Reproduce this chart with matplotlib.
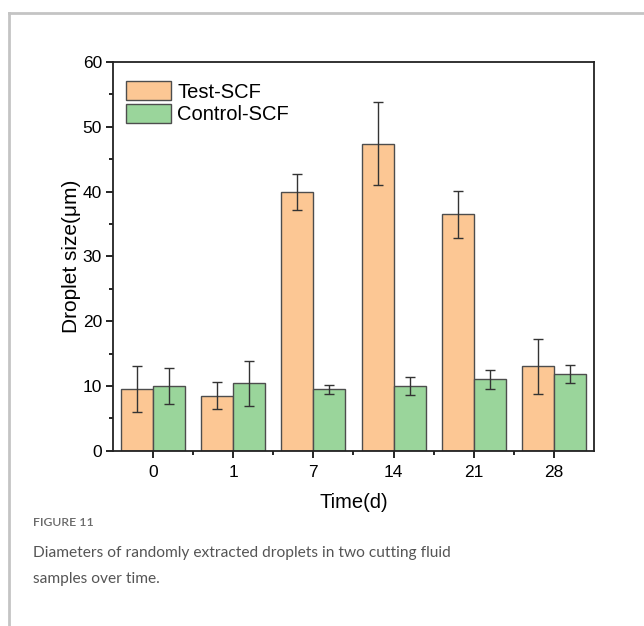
import matplotlib
matplotlib.use('Agg')
import matplotlib.pyplot as plt
from matplotlib.lines import Line2D
import numpy as np

DAYS = ['0', '1', '7', '14', '21', '28']
TEST_MEAN = [9.5, 8.5, 39.9, 47.4, 36.5, 13.0]
TEST_ERR = [3.5, 2.1, 2.8, 6.4, 3.6, 4.3]
CTRL_MEAN = [10.0, 10.4, 9.5, 10.0, 11.0, 11.9]
CTRL_ERR = [2.8, 3.5, 0.7, 1.4, 1.4, 1.4]

plt.rcParams['font.family'] = ['Liberation Sans', 'DejaVu Sans']

fig = plt.figure(figsize=(6.44, 6.26), dpi=100)

# page frame (grey lines top and left)
fig.add_artist(Line2D([9 / 644, 1], [1 - 13 / 626] * 2, color='#c4c4c4', lw=2,
                      transform=fig.transFigure))
fig.add_artist(Line2D([9 / 644] * 2, [0, 1 - 13 / 626], color='#c4c4c4', lw=2,
                      transform=fig.transFigure))

ax = fig.add_axes([113 / 644, 1 - 450.7 / 626, 481 / 644, 388.7 / 626])
x = np.arange(len(DAYS))
w = 0.4
ekw = dict(ecolor='#333333', elinewidth=1, capsize=3.5, capthick=1)
ax.bar(x - w / 2, TEST_MEAN, w, yerr=TEST_ERR, color='#fcc794',
       edgecolor='#4d4d4d', linewidth=1, label='Test-SCF', error_kw=ekw)
ax.bar(x + w / 2, CTRL_MEAN, w, yerr=CTRL_ERR, color='#9ad59b',
       edgecolor='#4d4d4d', linewidth=1, label='Control-SCF', error_kw=ekw)

ax.set_xlim(-0.5, 5.5)
ax.set_ylim(0, 60)
ax.set_xticks(x)
ax.set_xticklabels(DAYS)
ax.set_xticks(x[:-1] + 0.5, minor=True)
ax.set_yticks(np.arange(0, 61, 10))
ax.set_yticks(np.arange(5, 60, 10), minor=True)
ax.tick_params(which='major', direction='out', length=5, width=1.2,
               labelsize=12.5, pad=3)
ax.tick_params(axis='x', which='major', pad=5)
ax.tick_params(which='minor', direction='out', length=3, width=1.2)
for s in ax.spines.values():
    s.set_linewidth(1.3)
    s.set_color('#222222')

ax.set_xlabel('Time(d)', fontsize=14.5, labelpad=10)
ax.set_ylabel('Droplet size(μm)', fontsize=15, labelpad=1)

ax.legend(loc='upper left', bbox_to_anchor=(0.027, 0.951), borderpad=0,
          frameon=False, fontsize=14.5, handlelength=2.25, handleheight=1.1,
          labelspacing=0.12, handletextpad=0.3, borderaxespad=0)

fig.text(33 / 644, 1 - 523 / 626, 'FIGURE 11', fontsize=8.8, color='#6a6a6a',
         family=['Lato', 'DejaVu Sans'], fontweight='semibold', va='center')
fig.text(33 / 644, 1 - 553 / 626,
         'Diameters of randomly extracted droplets in two cutting fluid',
         fontsize=11.2, color='#555555', family=['Lato', 'DejaVu Sans'],
         va='center')
fig.text(33 / 644, 1 - 579 / 626, 'samples over time.', fontsize=11.2,
         color='#555555', family=['Lato', 'DejaVu Sans'], va='center')

fig.savefig('out.png', dpi=100)
